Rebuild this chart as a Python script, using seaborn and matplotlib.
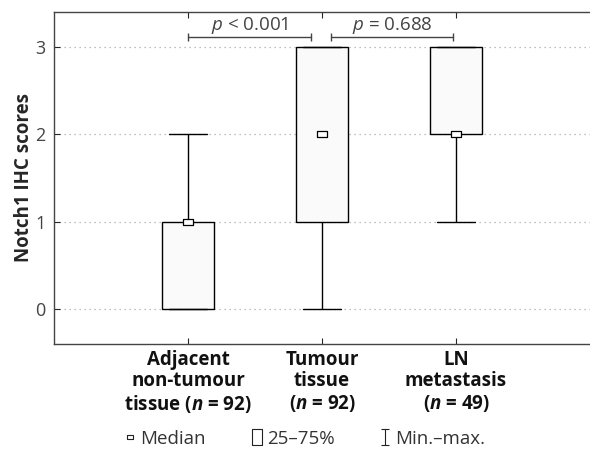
import pandas as pd
import matplotlib.pyplot as plt
import matplotlib as mpl
from matplotlib.path import Path
from matplotlib.markers import MarkerStyle
from matplotlib.lines import Line2D
import seaborn as sns

# data (five-number summary per group)
group_names = ["Adjacent\nnon-tumour\ntissue", "Tumour\ntissue\n", "LN\nmetastasis\n"]
group_n = [92, 92, 49]
score_min = [0, 0, 1]
score_q1 = [0, 1, 2]
score_median = [1, 2, 2]
score_q3 = [1, 3, 3]
score_max = [2, 3, 3]
yticks = [0, 1, 2, 3]
p_labels = ["$\\mathit{p}$ < 0.001", "$\\mathit{p}$ = 0.688"]
p_pairs = [(0, 1), (1, 2)]

sns.set_style("white")
plt.rcParams["font.family"] = ["Open Sans", "DejaVu Sans"]
plt.rcParams["mathtext.fontset"] = "custom"
plt.rcParams["mathtext.it"] = "Open Sans:italic"
plt.rcParams["mathtext.rm"] = "Open Sans"
plt.rcParams["mathtext.bfit"] = "Open Sans:bold:italic"

# build labels with italic n
labels = []
for name, n in zip(group_names, group_n):
    if name.endswith("\n"):
        labels.append(name + f"($\\bfit{{n}}$ = {n})")
    else:
        labels.append(name + f" ($\\bfit{{n}}$ = {n})")

rows = []
for lab, a, b, c, d, e in zip(labels, score_min, score_q1, score_median, score_q3, score_max):
    for v in (a, b, c, d, e):
        rows.append({"group": lab, "score": v})
df = pd.DataFrame(rows)

fig = plt.figure(figsize=(5.9, 4.53), dpi=100)
ax = fig.add_axes([0.0915, 0.2406, 0.9085, 0.733])

ax.grid(axis="y", color="#aaaaaa", linestyle=(0, (1, 3)), linewidth=0.9)
ax.set_axisbelow(True)

sns.boxplot(data=df, x="group", y="score", order=labels, whis=(0, 100),
            width=0.39, color="#fafafa", linecolor="black", linewidth=1,
            showfliers=False, capwidths=0.28, medianprops=dict(visible=False),
            ax=ax)

med_marker = MarkerStyle(Path([(-1.6, -1), (1.6, -1), (1.6, 1), (-1.6, 1), (-1.6, -1)],
                              closed=True))
sns.pointplot(data=df, x="group", y="score", order=labels, estimator="median",
              errorbar=None, linestyle="none", marker=med_marker, markersize=7.5,
              markerfacecolor="white", markeredgecolor="black", markeredgewidth=0.9,
              color="black", zorder=5, ax=ax)

ax.set_xlim(-1, 3)
ax.set_ylim(-0.4, 3.4)
ax.set_yticks(yticks)
ax.set_xticks(range(len(labels)))
ax.set_xticklabels(labels, fontsize=13.5, fontweight="bold", color="#111111",
                   linespacing=1.1)
ax.tick_params(axis="y", labelsize=13, labelcolor="#444444", direction="in",
               length=4, pad=6, left=True)
ax.tick_params(axis="x", direction="in", length=4, bottom=True, top=True, pad=4)
ax.set_xlabel("")
ax.set_ylabel("Notch1 IHC scores", fontsize=13.5, fontweight="bold", labelpad=1)

for s in ["left", "top", "bottom"]:
    ax.spines[s].set_visible(True)
    ax.spines[s].set_color("#444444")
    ax.spines[s].set_linewidth(1)
ax.spines["right"].set_visible(False)

# significance brackets
bracket_y = 3.115
offsets = [(0, -0.08), (0.07, -0.02)]
for (i, j), lab, (o1, o2) in zip(p_pairs, p_labels, offsets):
    x0, x1 = i + o1, j + o2
    ax.plot([x0, x1], [bracket_y, bracket_y], color="#444444", lw=1,
            marker="|", markersize=6, markeredgewidth=1)
    ax.text((x0 + x1) / 2, bracket_y + 0.01, lab, ha="center", va="bottom",
            fontsize=13.5, color="#444444")

# legend
box_marker = MarkerStyle(Path([(-0.6, -1), (0.6, -1), (0.6, 1), (-0.6, 1), (-0.6, -1)],
                              closed=True))
ibeam = MarkerStyle(Path([(-0.55, 1), (0.55, 1), (0, 1), (0, -1), (-0.55, -1), (0.55, -1)],
                         [Path.MOVETO, Path.LINETO, Path.MOVETO, Path.LINETO,
                          Path.MOVETO, Path.LINETO]))
handles = [
    Line2D([], [], ls="none", marker=med_marker, markersize=4.5, markerfacecolor="white",
           markeredgecolor="#222222", markeredgewidth=0.8),
    Line2D([], [], ls="none", marker=box_marker, markersize=12, markerfacecolor="white",
           markeredgecolor="#222222", markeredgewidth=0.8),
    Line2D([], [], ls="none", marker=ibeam, markersize=11, markerfacecolor="none",
           markeredgecolor="#222222", markeredgewidth=0.8),
]
fig.legend(handles, ["Median", "25–75%", "Min.–max."], loc="lower center",
           bbox_to_anchor=(0.517, -0.026), ncol=3, frameon=False, fontsize=13.5,
           handlelength=0.6, handletextpad=0.25, columnspacing=2.4,
           labelcolor="#333333")

fig.savefig("out.png", dpi=100)
